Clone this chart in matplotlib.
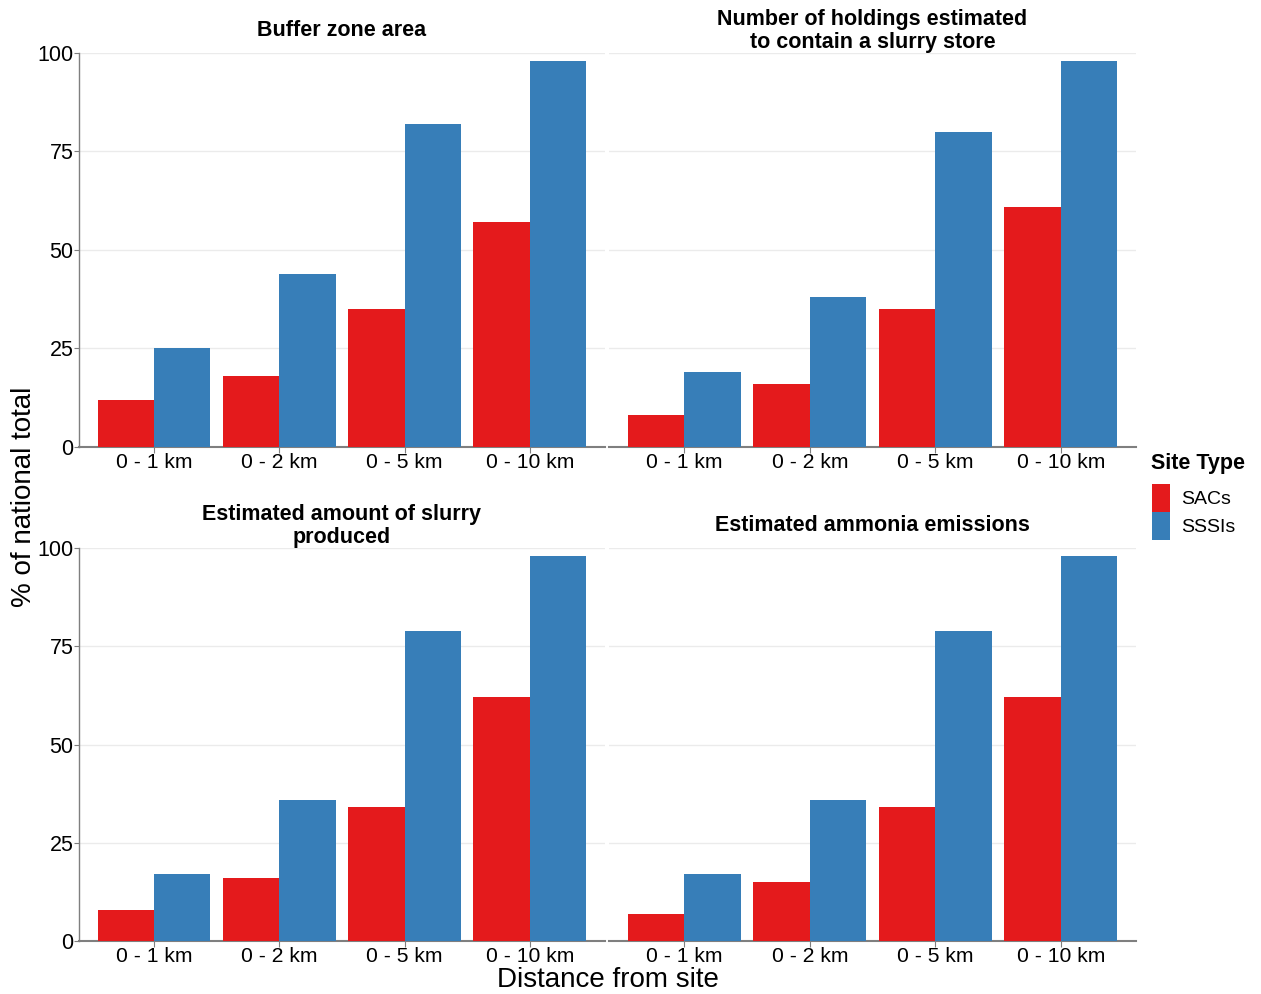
import numpy as np
import matplotlib.pyplot as plt

plt.rcParams['font.family'] = ['Liberation Sans', 'DejaVu Sans']

categories = ["0 - 1 km", "0 - 2 km", "0 - 5 km", "0 - 10 km"]
titles = ["Buffer zone area",
          "Number of holdings estimated\nto contain a slurry store",
          "Estimated amount of slurry\nproduced",
          "Estimated ammonia emissions"]
sacs = [[12, 18, 35, 57],
        [8, 16, 35, 61],
        [8, 16, 34, 62],
        [7, 15, 34, 62]]
sssis = [[25, 44, 82, 98],
         [19, 38, 80, 98],
         [17, 36, 79, 98],
         [17, 36, 79, 98]]

red = "#E41A1C"
blue = "#377EB8"
grey = "#7f7f7f"

W, H = 1261, 994
fig = plt.figure(figsize=(W / 100, H / 100), dpi=100)

# axes rectangles in figure fractions (left, bottom, width, height)
rects = [(0.0626, 0.5503, 0.4171, 0.3964),
         (0.4830, 0.5503, 0.4179, 0.3964),
         (0.0626, 0.0533, 0.4171, 0.3954),
         (0.4830, 0.0533, 0.4179, 0.3954)]

x = np.arange(len(categories))
w = 0.45

for i, r in enumerate(rects):
    ax = fig.add_axes(r)
    ax.bar(x - w / 2, sacs[i], width=w, color=red, label="SACs", zorder=3)
    ax.bar(x + w / 2, sssis[i], width=w, color=blue, label="SSSIs", zorder=3)

    ax.set_xlim(-0.6, 3.6)
    ax.set_ylim(0, 100)
    ax.set_xticks(x)
    ax.set_xticklabels(categories, fontsize=15.2)
    ax.set_yticks([0, 25, 50, 75, 100])
    ax.yaxis.grid(True, color="#ebebeb", linewidth=1.0, zorder=0)
    ax.set_axisbelow(True)

    for side in ("top", "right", "left"):
        ax.spines[side].set_visible(False)
    ax.spines["bottom"].set_color(grey)
    ax.spines["bottom"].set_linewidth(1.5)
    ax.tick_params(axis="x", length=4, color=grey, pad=0)

    if i % 2 == 0:
        ax.spines["left"].set_visible(True)
        ax.spines["left"].set_color(grey)
        ax.spines["left"].set_linewidth(1.0)
        ax.tick_params(axis="y", length=3.5, color=grey, labelsize=15.5, pad=0.5)
    else:
        ax.tick_params(axis="y", length=0, labelleft=False)

    # title centred in the strip above each panel
    ax.text(0.5, 1.0 + 22 / (r[3] * H), titles[i], transform=ax.transAxes,
            ha="center", va="center", fontsize=15.5, fontweight="bold",
            linespacing=1.15)

    if i == 0:
        handles, labels = ax.get_legend_handles_labels()

fig.text(0.019, 0.5, "% of national total", rotation=90, fontsize=20,
         ha="center", va="center")
fig.text(608 / W, 1 - 980 / H, "Distance from site", fontsize=20,
         ha="center", va="center")

fig.text(1151 / W, 1 - 463 / H, "Site Type", fontsize=15.5, fontweight="bold",
         ha="left", va="center")
fig.legend(handles, labels, loc="upper left",
           bbox_to_anchor=(1152 / W, 1 - 484 / H),
           frameon=False, fontsize=14, borderpad=0, borderaxespad=0,
           handlelength=0.93, handleheight=1.85, handletextpad=0.55,
           labelspacing=0.0)

fig.savefig("out.png", dpi=100)
